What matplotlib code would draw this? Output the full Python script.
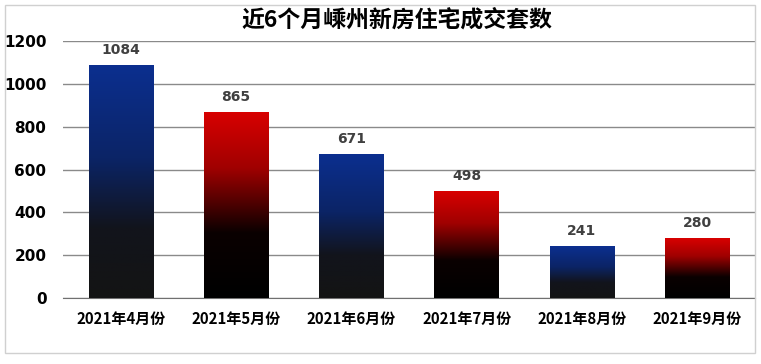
import matplotlib
matplotlib.use('Agg')
import matplotlib.pyplot as plt
import numpy as np
from matplotlib.colors import LinearSegmentedColormap
from matplotlib.patches import Rectangle

plt.rcParams['font.family'] = ['Noto Sans CJK SC', 'DejaVu Sans']

months = ['2021年4月份', '2021年5月份', '2021年6月份', '2021年7月份', '2021年8月份', '2021年9月份']
counts = [1084, 865, 671, 498, 241, 280]
title = '近6个月嵊州新房住宅成交套数'

# 蓝/红渐变到黑
blue_cmap = LinearSegmentedColormap.from_list(
    'blue', [(0.0, '#0c2f8f'), (0.4, '#0b2466'), (0.7, '#12141c'), (1.0, '#141414')])
red_cmap = LinearSegmentedColormap.from_list(
    'red', [(0.0, '#d80000'), (0.3, '#a00000'), (0.65, '#0a0000'), (1.0, '#000000')])

fig = plt.figure(figsize=(7.61, 3.64), dpi=100)
ax = fig.add_axes([0.083, 0.181, 0.909, 0.706])

width = 0.56
x = np.arange(len(months))
grad = np.linspace(0, 1, 256).reshape(-1, 1)

for i, v in enumerate(counts):
    cmap = blue_cmap if i % 2 == 0 else red_cmap
    ax.imshow(grad, cmap=cmap, aspect='auto', origin='upper',
              extent=(i - width / 2, i + width / 2, 0, v), zorder=3)
    ax.text(i, v + 40, str(v), ha='center', va='bottom', fontsize=10,
            fontweight='bold', color='#404040', family='DejaVu Sans')

ax.set_xlim(-0.5, len(months) - 0.5)
ax.set_ylim(0, 1200)
ax.set_yticks(range(0, 1201, 200))
ax.set_xticks(x)
ax.set_xticklabels(months, fontsize=10.8, fontweight='bold')
for lbl in ax.get_yticklabels():
    lbl.set_fontsize(11)
    lbl.set_fontweight('bold')
    lbl.set_family('DejaVu Sans')

ax.grid(axis='y', color='#8a8a8a', linewidth=1, zorder=0)
ax.set_axisbelow(True)
for s in ['left', 'right', 'top']:
    ax.spines[s].set_visible(False)
ax.spines['bottom'].set_color('#707070')
ax.tick_params(axis='both', length=0)
ax.tick_params(axis='x', pad=9)
ax.tick_params(axis='y', pad=12)

fig.text(0.522, 0.945, title, ha='center', va='center', fontsize=16.5,
         fontweight='bold')

# 外框
fig.patches.append(Rectangle((5 / 761, 11 / 364), 750 / 761, 348 / 364,
                             transform=fig.transFigure, fill=False,
                             edgecolor='#d0d0d0', linewidth=1))

plt.savefig('out.png', dpi=100)
